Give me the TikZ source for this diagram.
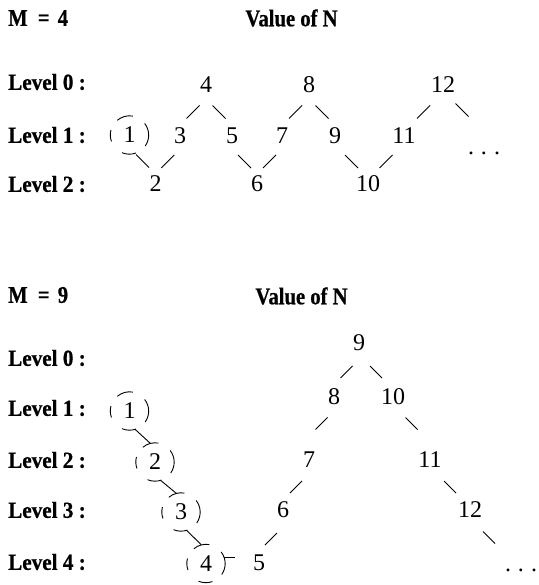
\documentclass[tikz,border=0pt]{standalone}
\usepackage{fontspec}
\setmainfont{Liberation Serif}
\newfontfamily\hdfont{Liberation Serif}[FakeStretch=0.86,BoldFeatures={FakeBold=0.6}]
\newfontfamily\lvfont{Liberation Serif}[FakeStretch=0.92,BoldFeatures={FakeBold=0.6}]
\usetikzlibrary{calc}
\tikzset{
  num/.style={inner sep=0pt, font=\fontsize{24}{24}\selectfont},
  cnum/.style={num, circle, minimum size=38pt},
  lvl/.style={inner sep=0pt, anchor=west, font=\lvfont\bfseries\fontsize{23}{23}\selectfont},
  hd/.style={inner sep=0pt, font=\hdfont\bfseries\fontsize{24}{24}\selectfont},
  conn/.style={line width=0.9pt},
  dcirc/.style={line width=0.9pt},
}
\def\hl{6.5}
% "/" segment centred between two nodes
\newcommand\lnkS[3]{\draw[conn] ($(#1)!.5!(#2)+(#3)+(-\hl,-\hl)$) -- ($(#1)!.5!(#2)+(#3)+(\hl,\hl)$);}
% "\" segment centred between two nodes
\newcommand\lnkB[3]{\draw[conn] ($(#1)!.5!(#2)+(#3)+(-\hl,\hl)$) -- ($(#1)!.5!(#2)+(#3)+(\hl,-\hl)$);}
% broken (dashed) circle round a circled node
\newcommand\dcirc[1]{%
  \draw[dcirc] (#1.80) arc[start angle=80,end angle=130,radius=19pt];
  \draw[dcirc] (#1.165) arc[start angle=165,end angle=200,radius=19pt];
  \draw[dcirc] (#1.-35) arc[start angle=-35,end angle=38,radius=19pt];
  \draw[dcirc] (#1.247) arc[start angle=247,end angle=290,radius=19pt];}
\begin{document}
\begin{tikzpicture}[x=1pt,y=1pt]
\useasboundingbox (0,0) rectangle (538,-585);
% ---------------- M = 4 ----------------
\node[hd, anchor=west] (m4) at (8,-18) {M\hspace{5pt} = \hspace{3pt}4};
\node[hd] (v1) at (291.5,-18) {Value of N};
\node[lvl] (a0) at (8,-82) {Level 0 :};
\node[lvl] (a1) at (8,-135) {Level 1 :};
\node[lvl] (a2) at (8,-184) {Level 2 :};

\node[num] (t4) at (206,-85) {4};
\node[num] (t8) at (309,-85) {8};
\node[num] (t12) at (443,-85) {12};
\node[cnum] (t1) at (129.5,-135) {1};
\node[num] (t3) at (180,-136) {3};
\node[num] (t5) at (232,-136) {5};
\node[num] (t7) at (282,-136) {7};
\node[num] (t9) at (335,-136) {9};
\node[num] (t11) at (404,-136) {11};
\node[num] (t2) at (155.5,-184) {2};
\node[num] (t6) at (257,-184) {6};
\node[num] (t10) at (368,-184) {10};
\node[num] (td) at (484,-153) {.\hspace{7pt}.\hspace{7pt}.};
\coordinate (t13) at (481,-135);
\dcirc{t1}

\lnkB{t1}{t2}{0,-1.5}
\lnkS{t2}{t3}{0,-1.5}
\lnkS{t3}{t4}{0,-1.5}
\lnkB{t4}{t5}{0,-1.5}
\lnkB{t5}{t6}{0,-1.5}
\lnkS{t6}{t7}{0,-1.5}
\lnkS{t7}{t8}{0,-1.5}
\lnkB{t8}{t9}{0,-1.5}
\lnkB{t9}{t10}{0,-1.5}
\lnkS{t10}{t11}{0,-1.5}
\lnkS{t11}{t12}{0,-1.5}
\lnkB{t12}{t13}{0,0}

% ---------------- M = 9 ----------------
\node[hd, anchor=west] (m9) at (8,-295) {M\hspace{5pt} = \hspace{3pt}9};
\node[hd] (v2) at (301.5,-296) {Value of N};
\node[lvl] (b0l) at (8,-358) {Level 0 :};
\node[lvl] (b1l) at (8,-408) {Level 1 :};
\node[lvl] (b2l) at (8,-460) {Level 2 :};
\node[lvl] (b3l) at (8,-510) {Level 3 :};
\node[lvl] (b4l) at (8,-562) {Level 4 :};

\node[cnum] (c1) at (129.5,-411) {1};
\node[cnum] (c2) at (155,-462) {2};
\node[cnum] (c3) at (181,-512) {3};
\node[cnum] (c4) at (206,-563.5) {4};
\node[num] (b5) at (259,-563) {5};
\node[num] (b6) at (283,-510) {6};
\node[num] (b7) at (309,-460) {7};
\node[num] (b8) at (334,-397) {8};
\node[num] (b9) at (359,-343) {9};
\node[num] (b10) at (393,-397) {10};
\node[num] (b11) at (430,-460) {11};
\node[num] (b12) at (470,-510) {12};
\node[num] (bd) at (521,-570) {.\hspace{7pt}.\hspace{7pt}.};
\coordinate (bnext) at (508,-565);
\dcirc{c1}
\dcirc{c2}
\dcirc{c3}
\dcirc{c4}
\draw[conn] (c1.287) -- (c2.104);
\draw[conn] (c2.287) -- (c3.104);
\draw[conn] (c3.287) -- (c4.104);
\draw[conn, shorten >=18pt] (c4.17) -- (c4.17 -| b5.west);

\def\hl{6}
\lnkS{b5}{b6}{0,-2.5}
\lnkS{b6}{b7}{0,-2}
\lnkS{b7}{b8}{0,5}
\lnkS{b8}{b9}{0,-2}
\lnkB{b9}{b10}{0,-2}
\lnkB{b10}{b11}{0,5}
\lnkB{b11}{b12}{0,-2}
\lnkB{b12}{bnext}{0,0}
\end{tikzpicture}
\end{document}
